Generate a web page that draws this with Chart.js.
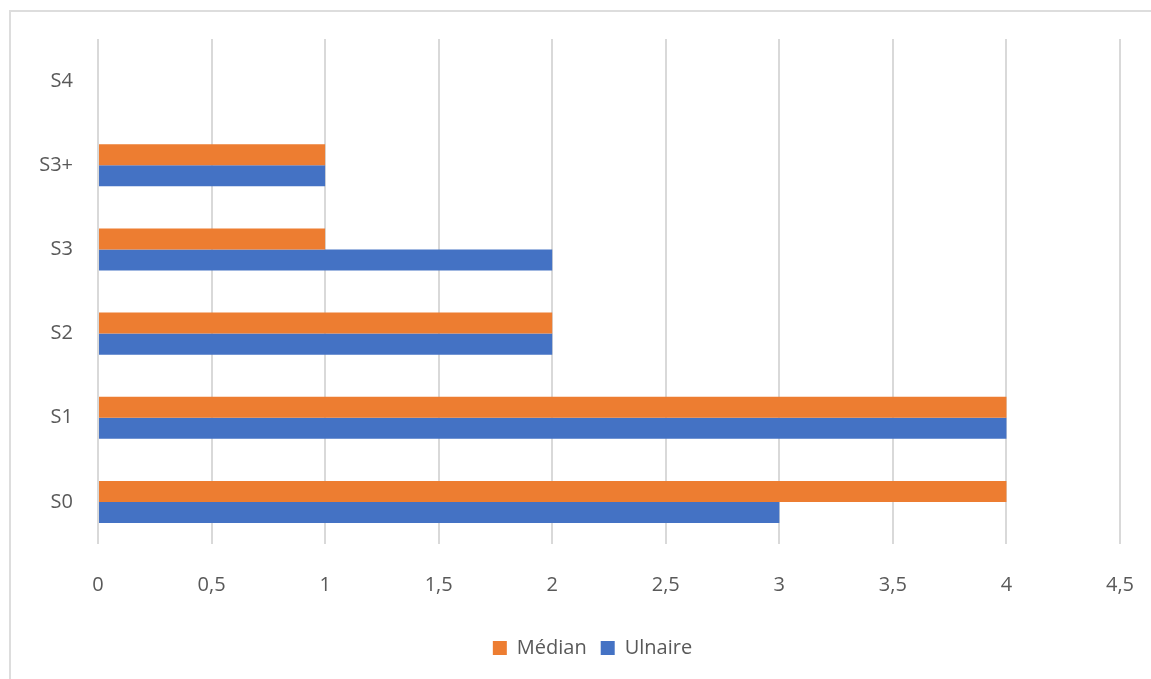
<!DOCTYPE html>
<html>
<head>
<meta charset="utf-8">
<script src="https://cdn.jsdelivr.net/npm/chart.js@4"></script>
<style>
  body { margin: 0; background: #fff; }
  #cornice { position: absolute; left: 9px; top: 10px; width: 1150px; height: 680px;
             border-left: 2px solid #DDDDDD; border-top: 2px solid #DDDDDD; }
  #myChart { position: absolute; left: 0; top: 0; }
</style>
</head>
<body>
<div id="cornice"></div>
<canvas id="myChart" width="1151" height="679"></canvas>
<script>
// categorie dall'alto verso il basso (S4 in cima, S0 in fondo)
var categorie = ['S4', 'S3+', 'S3', 'S2', 'S1', 'S0'];
var valori_mediano = [0, 1, 1, 2, 4, 4];
var valori_ulnaire = [0, 1, 2, 2, 4, 3];
var tick_x = ['0', '0,5', '1', '1,5', '2', '2,5', '3', '3,5', '4', '4,5'];

var colore_testo = '#595959';
var font_base = { family: '"Open Sans", sans-serif', size: 20 };

var ctx = document.getElementById('myChart');
var myChart = new Chart(ctx, {
    type: 'bar',
    data: {
        labels: categorie,
        datasets: [{
            label: 'Médian',
            data: valori_mediano,
            backgroundColor: '#ED7D31',
            categoryPercentage: 0.5,
            barPercentage: 1
        }, {
            label: 'Ulnaire',
            data: valori_ulnaire,
            backgroundColor: '#4472C4',
            categoryPercentage: 0.5,
            barPercentage: 1
        }]
    },
    options: {
        indexAxis: 'y',
        responsive: false,
        animation: false,
        layout: { padding: { top: 39, right: 0, bottom: 11, left: 34 } },
        scales: {
            x: {
                min: 0,
                max: 4.5,
                afterFit: function(scala) {
                    scala.height = 80;
                    scala.paddingLeft = 0;
                    scala.paddingRight = 31;
                },
                grid: { color: '#D9D9D9', lineWidth: 2, drawTicks: false },
                border: { display: false },
                ticks: {
                    stepSize: 0.5,
                    padding: 29,
                    color: colore_testo,
                    font: font_base,
                    callback: function(v, i) { return tick_x[i]; }
                }
            },
            y: {
                afterFit: function(scala) {
                    scala.width = 64;
                    scala.paddingTop = 0;
                    scala.paddingBottom = 0;
                },
                grid: { display: false, drawTicks: false },
                border: { display: false },
                ticks: { padding: 25, color: colore_testo, font: font_base }
            }
        },
        plugins: {
            legend: {
                position: 'bottom',
                labels: {
                    boxWidth: 14,
                    boxHeight: 14,
                    padding: 14,
                    color: colore_testo,
                    font: font_base
                }
            },
            tooltip: { enabled: false }
        }
    }
});
</script>
</body>
</html>
